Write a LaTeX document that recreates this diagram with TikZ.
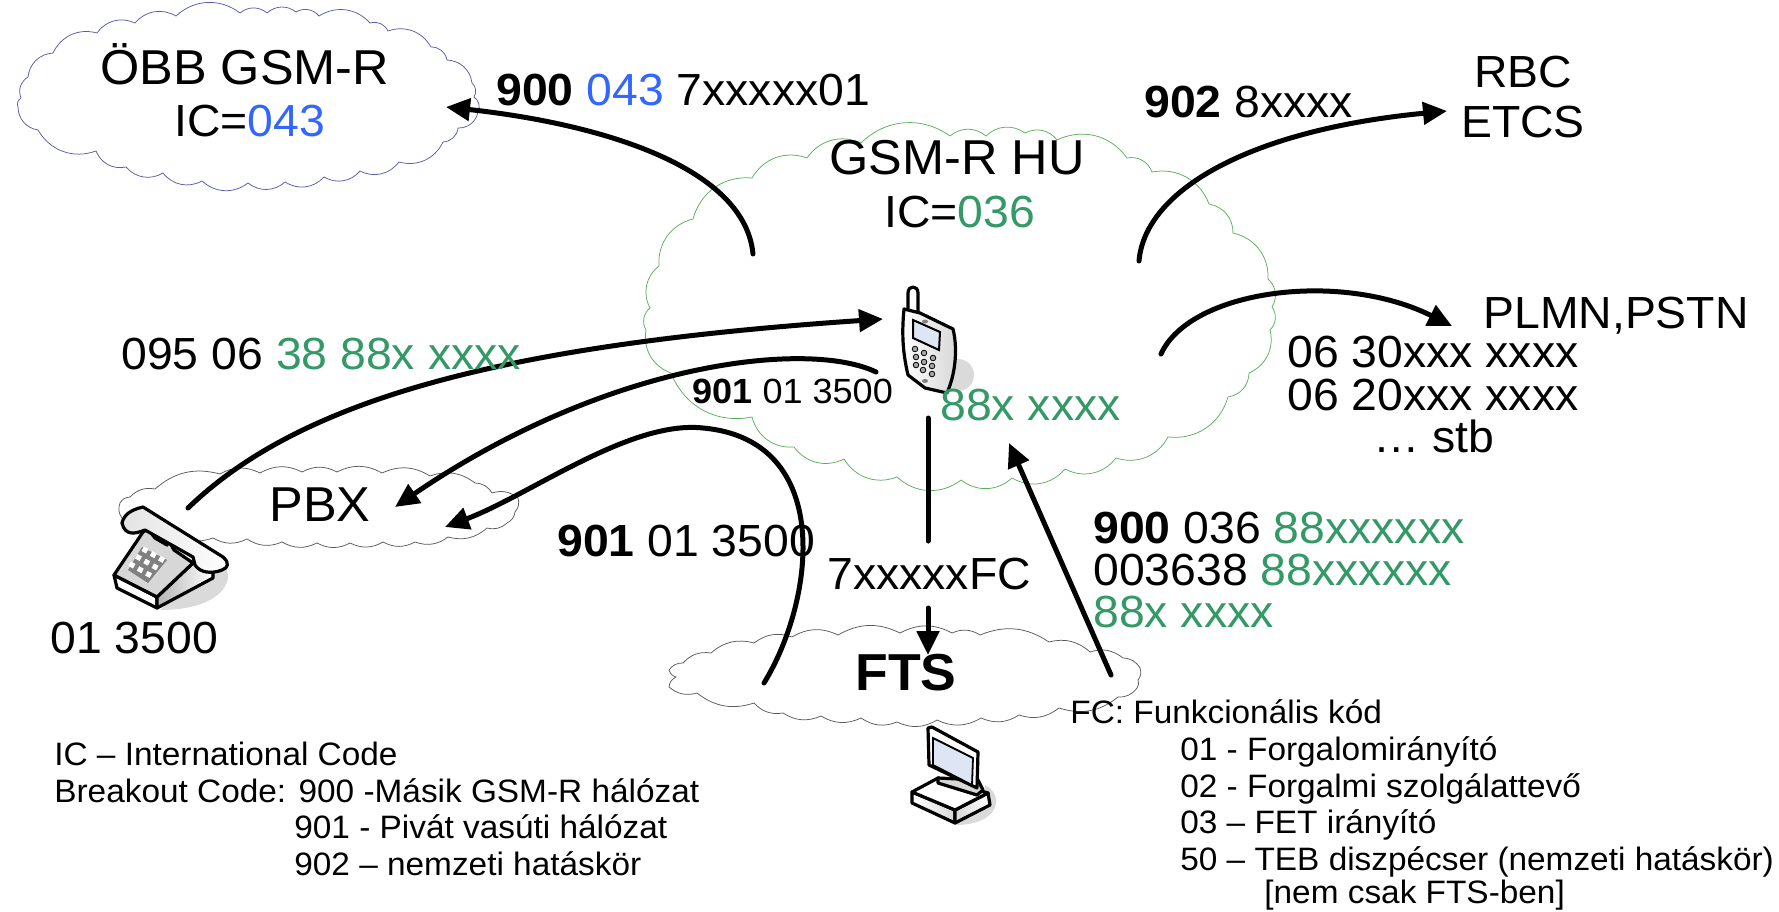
\documentclass[tikz,border=0pt]{standalone}
\usepackage{fontspec}
\setmainfont[FakeStretch=1.03]{Liberation Sans}
\usetikzlibrary{arrows.meta}
\definecolor{codegreen}{RGB}{51,153,102}
\definecolor{codeblue}{RGB}{51,102,255}
\definecolor{obbline}{RGB}{90,90,170}
\definecolor{huline}{RGB}{90,175,90}
\definecolor{graycloud}{RGB}{90,90,90}
\definecolor{iconshadow}{RGB}{218,218,218}
\definecolor{iconbody}{RGB}{215,215,215}
\definecolor{iconscreen}{RGB}{222,230,245}
\tikzset{
  every picture/.style={line width=0.75pt},
  puff/.style={bend right=40},
  flatpuff/.style={bend right=28},
  callarrow/.style={line width=5pt,line cap=round,-{Triangle[length=24pt,width=22pt]}},
  calltail/.style={line width=5pt,line cap=round},
  iconline/.style={draw=black,line width=3.2pt,line join=round},
  bigtext/.style={font=\fontsize{45}{48}\selectfont,inner sep=0pt,anchor=base west},
  hugetext/.style={font=\fontsize{49}{52}\selectfont,inner sep=0pt,anchor=base west},
  smalltext/.style={font=\fontsize{35}{38}\selectfont,inner sep=0pt,anchor=base west},
  notetext/.style={font=\fontsize{32.4}{35}\selectfont,inner sep=0pt,anchor=base west}
}

\begin{document}
\begin{tikzpicture}[x=1pt,y=1pt,yscale=-1,xscale=1]
\useasboundingbox (0,0) rectangle (1779,912);

% Connector ends
\coordinate (obbstart) at (753,254);
\coordinate (obbtip) at (446,107);
\coordinate (rbcstart) at (1139,261);
\coordinate (rbctip) at (1447,111);
\coordinate (plmnstart) at (1161,354);
\coordinate (plmntip) at (1452,326);
\coordinate (deskstart) at (188,508);
\coordinate (mobiletip) at (883,319);
\coordinate (mobilestart) at (876,372);
\coordinate (pbxtipa) at (395,507);
\coordinate (ftsstarta) at (764,683);
\coordinate (ftsbend) at (703,428);
\coordinate (pbxtipb) at (445,527);
\coordinate (huleave) at (928,418);
\coordinate (humid) at (928,541);
\coordinate (ftsenter) at (928,608);
\coordinate (ftstip) at (928,655);
\coordinate (ftsstartb) at (1111,675);
\coordinate (hutip) at (1009,443);

%Cloud Lines
\draw [obbline] (97,33) \foreach \x/\y in {135/23,176/16,240/13,267/13,296/12,319/16,370/23,388/31,431/47,447/60,472/83,474/97,478/112,458/128,443/142,399/162,360/171,324/177,285/182,248/183,202/181,163/173,126/167,96/151,38/130,18/107,21/98,28/77,53/53,97/33} { to[puff] (\x,\y) };
\draw [huline] (807,158) \foreach \x/\y in {861/143,950/136,986/136,1025/133,1057/140,1127/158,1152/172,1209/204,1233/233,1268/279,1272/307,1270/330,1249/373,1228/397,1168/437,1116/458,1065/469,1012/478,961/480,897/477,844/459,794/447,752/417,671/373,646/330,650/308,659/266,693/219,752/178,807/158} { to[puff] (\x,\y) };
\draw [graycloud] (155,489) \foreach \x/\y in {220/474,260/473,302/472,337/472,382/473,430/476,475/483,492/493,518/498,515/512,507/523,487/528,448/537,415/542,383/542,350/543,317/543,282/542,247/539,213/538,165/530,122/518,120/503,130/497,155/489} { to[flatpuff] (\x,\y) };
\draw [graycloud] (711,653) \foreach \x/\y in {754/643,792/637,838/635,900/633,952/633,980/635,1049/642,1090/652,1123/658,1140/668,1138/680,1137/688,1118/697,1059/708,1019/715,981/718,937/720,897/722,861/718,821/716,783/713,754/703,697/693,669/687,676/677,669/670,683/663,711/653} { to[flatpuff] (\x,\y) };

%Mobile Phone
\fill [iconshadow] (958,375) circle (16);
\draw [iconline,fill=white] (908,312) -- (908,293) .. controls (908,285) and (918,285) .. (918,293) -- (918,314) -- cycle;
\draw [iconline,left color=white,right color=iconbody] (904,309) -- (920,313) -- (953,329) .. controls (957,345) and (957,370) .. (947,393) -- (925,388) -- (908,375) .. controls (902,350) and (902,330) .. (904,309) -- cycle;
\draw [line width=2pt,fill=iconscreen] (913,320) -- (940,332) -- (939,350) -- (913,338) -- cycle;
\fill [gray] (925,321.5) ellipse (3 and 2);
\fill [gray] (925,381) ellipse (3 and 2);
\foreach \kx/\ky in {915/349,924/353,933/358,916/357,924/362,932/366,916/365,923/370,932/374} {
  \draw [fill=gray!70,line width=0.8pt] (\kx,\ky) circle (2.8);
}

%Desk Phone
\fill [iconshadow] (213,560) .. controls (240,565) and (235,610) .. (160,610) -- (200,570) -- cycle;
\draw [iconline,fill=white] (114,575) -- (157,597) -- (157,608) -- (117,588) -- cycle;
\draw [iconline,left color=iconbody!60!gray,right color=white] (157,597) -- (193,563) -- (213,568) -- (213,578) -- (157,608) -- cycle;
\draw [iconline,fill=iconbody] (143,532) -- (148,529) -- (155,538) -- (167,545) -- (169,541) -- (174,550) -- (193,563) -- (157,597) -- (114,575) -- cycle;
\fill [gray] (142,547) -- (167,560) -- (148,583) -- (128,570) -- cycle;
\foreach \i in {0,1,2} {
  \foreach \j in {0,1,2} {
    \fill [white,shift={(145+8.3*\i-6.5*\j,550+4.7*\i+7.5*\j)}] (-1,-3.5) -- (3.5,-1) -- (1,3.5) -- (-3.5,1) -- cycle;
  }
}
\draw [iconline,left color=iconbody!70,right color=white] (122,523) .. controls (124,515) and (130,510) .. (143,507) -- (223,557) .. controls (230,563) and (228,568) .. (222,570) .. controls (212,574) and (200,573) .. (195,565) -- (193,557) -- (145,530) .. controls (135,534) and (125,536) .. (122,523) -- cycle;

%Computer
\fill [iconshadow] (985,785) .. controls (1005,795) and (1000,825) .. (955,825) -- (985,805) -- cycle;
\draw [iconline,left color=white,right color=iconbody] (912,792) -- (955,810) -- (955,823) -- (912,803) -- cycle;
\draw [iconline,left color=iconbody,right color=white] (955,810) -- (988,793) -- (990,805) -- (955,823) -- cycle;
\draw [iconline,fill=white] (912,792) -- (938,778) -- (988,793) -- (955,810) -- cycle;
\draw [iconline,fill=iconbody] (938,778) -- (938,783) -- (977,795) -- (983,790) -- (978,780) -- cycle;
\draw [iconline,fill=white] (929,765) -- (928,728) -- (932,727) -- (978,752) -- (977,788) -- cycle;
\draw [line width=1.8pt,fill=iconscreen] (933,738) -- (973,758) -- (972,785) -- (933,765) -- cycle;

%Curve Lines
\draw [callarrow] (obbstart) .. controls (745,170) and (610,125) .. (obbtip);
\draw [callarrow] (rbcstart) .. controls (1145,190) and (1250,130) .. (rbctip);
\draw [callarrow] (plmnstart) .. controls (1190,290) and (1340,270) .. (plmntip);
\draw [callarrow] (deskstart) .. controls (300,400) and (500,345) .. (mobiletip);
\draw [callarrow] (mobilestart) .. controls (810,340) and (610,360) .. (pbxtipa);
\draw [callarrow] (ftsstarta) .. controls (815,600) and (835,440) .. (ftsbend) .. controls (630,420) and (530,495) .. (pbxtipb);

%Straight Lines
\draw [calltail] (huleave) -- (humid);
\draw [callarrow] (ftsenter) -- (ftstip);
\draw [callarrow] (ftsstartb) -- (hutip);

% Text Node
\draw (100,85) node (obbname) [hugetext] {ÖBB GSM-R};
\draw (174,137) node (obbcode) [bigtext] {IC=\textcolor{codeblue}{043}};
\draw (496,106) node (obbdial) [bigtext] {\textbf{900} \textcolor{codeblue}{043} 7xxxxx01};
\draw (1144,118) node (rbcdial) [bigtext] {\textbf{902} 8xxxx};
\draw (1523,88) node (rbcname) [bigtext,anchor=base] {RBC};
\draw (1523,138) node (etcsname) [bigtext,anchor=base] {ETCS};
\draw (829,175) node (huname) [hugetext] {GSM-R HU};
\draw (884,227) node (hucode) [bigtext] {IC=\textcolor{codegreen}{036}};
\draw (1483,328) node (plmnname) [bigtext] {PLMN,PSTN};
\draw (1287,367) node (plmnfirst) [bigtext] {06 30xxx xxxx};
\draw (1287,410) node (plmnsecond) [bigtext] {06 20xxx xxxx};
\draw (1373,452) node (plmnrest) [bigtext] {… stb};
\draw (121,369) node (deskdial) [bigtext] {095 06 \textcolor{codegreen}{38 88x xxxx}};
\draw (692,403) node (mobiledial) [smalltext] {\textbf{901} 01 3500};
\draw (940,420) node (mobilenum) [bigtext,text=codegreen] {88x xxxx};
\draw (269,521) node (pbxname) [hugetext] {PBX};
\draw (557,556) node (ftsdial) [bigtext] {\textbf{901} 01 3500};
\draw (827,589) node (fcdial) [bigtext] {7xxxxxFC};
\draw (855,690) node (ftsname) [hugetext,font=\fontsize{52}{54}\selectfont\bfseries] {FTS};
\draw (1093,543) node (hufirst) [bigtext] {\textbf{900} 036 \textcolor{codegreen}{88xxxxxx}};
\draw (1093,585) node (husecond) [bigtext] {003638 \textcolor{codegreen}{88xxxxxx}};
\draw (1093,627) node (huthird) [bigtext,text=codegreen] {88x xxxx};
\draw (50,653) node (desknum) [bigtext] {01 3500};
\draw (54,765) node (noteic) [notetext] {IC – International Code};
\draw (54,802) node (notebreak) [notetext] {Breakout Code: 900 -Másik GSM-R hálózat};
\draw (294,838) node (notenineone) [notetext] {901 - Pivát vasúti hálózat};
\draw (294,875) node (noteninetwo) [notetext] {902 – nemzeti hatáskör};
\draw (1070,723) node (notefc) [notetext] {FC: Funkcionális kód};
\draw (1180,760) node (notefcone) [notetext] {01 - Forgalomirányító};
\draw (1180,797) node (notefctwo) [notetext] {02 - Forgalmi szolgálattevő};
\draw (1180,833) node (notefcthree) [notetext] {03 – FET irányító};
\draw (1180,870) node (notefcfifty) [notetext] {50 – TEB diszpécser (nemzeti hatáskör)};
\draw (1264,903) node (notefcmore) [notetext] {[nem csak FTS-ben]};

\end{tikzpicture}
\end{document}
